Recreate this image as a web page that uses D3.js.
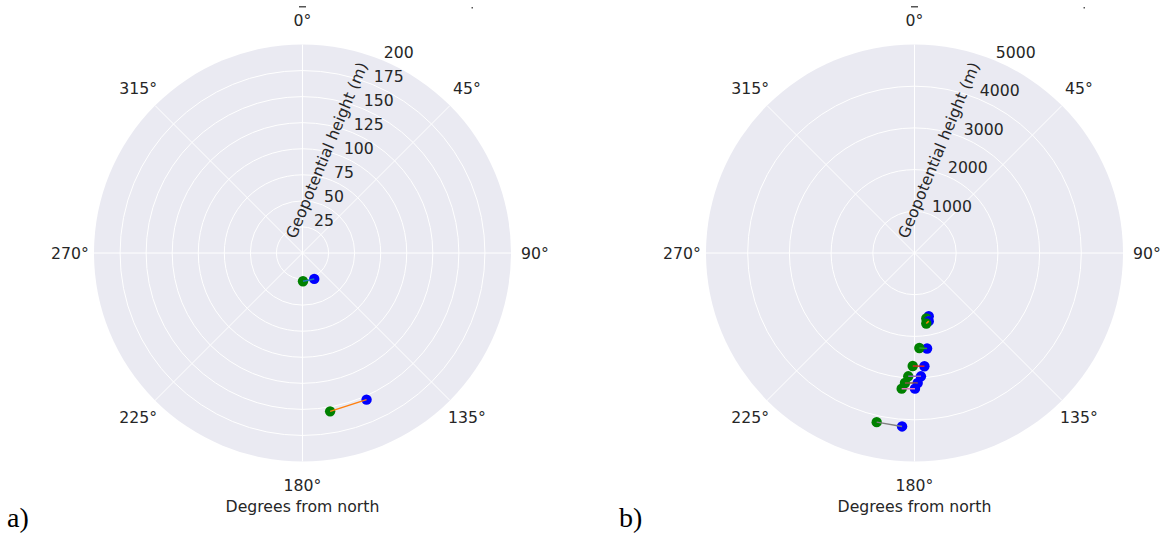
<!DOCTYPE html>
<html>
<head>
<meta charset="utf-8">
<script src="https://cdn.jsdelivr.net/npm/d3@7"></script>
<style>
  body { margin: 0; background: #fff; }
  text { font-family: "DejaVu Sans", sans-serif; fill: #262626; }
</style>
</head>
<body>
<script>
//// Data ////
const ANGLE_TICKS = [0, 45, 90, 135, 180, 225, 270, 315]

// panel a
const A_R_TICKS = [25, 50, 75, 100, 125, 150, 175, 200]
const A_BLUE_DIR = [155.6, 156.4]
const A_BLUE_HEIGHT = [27.3, 153.5]
const A_GREEN_DIR = [179.0, 170.1]
const A_GREEN_HEIGHT = [27.1, 154.2]

// panel b
const B_R_TICKS = [1000, 2000, 3000, 4000, 5000]
const B_BLUE_DIR = [167.3, 168.2, 172.5, 175.0, 177.0, 178.6, 179.8, 184.1]
const B_BLUE_HEIGHT = [1552, 1670, 2311, 2727, 2961, 3119, 3253, 4170]
const B_GREEN_DIR = [169.8, 170.5, 177.1, 180.9, 182.9, 184.2, 185.4, 192.6]
const B_GREEN_HEIGHT = [1595, 1714, 2280, 2710, 2961, 3126, 3268, 4156]

// matplotlib colour cycle for the connecting lines
const CYCLE = ["#1f77b4", "#ff7f0e", "#2ca02c", "#d62728", "#9467bd",
  "#8c564b", "#e377c2", "#7f7f7f", "#bcbd22", "#17becf"]

//// Layout ////
const WIDTH = 1165
const HEIGHT = 535
const RADIUS = 208.5
const CY = 253
const FONT = "15.7px"

const svg = d3.select("body").append("svg")
  .attr("width", WIDTH)
  .attr("height", HEIGHT)

function drawPanel(cx, rMax, rTicks, blueDir, blueH, greenDir, greenH, letter, letterX) {
  const g = svg.append("g").attr("transform", `translate(${cx},${CY})`)
  const r = d3.scaleLinear().domain([0, rMax]).range([0, RADIUS])
  const a = d3.scaleLinear().domain([0, 360]).range([0, 2 * Math.PI])

  g.append("circle").attr("r", RADIUS).attr("fill", "#eaeaf2")

  // rings
  g.selectAll(".ring").data(rTicks.filter(t => t < rMax)).join("circle")
    .attr("r", d => r(d))
    .attr("fill", "none")
    .attr("stroke", "#fff")
    .attr("stroke-width", 1)

  // spokes
  g.selectAll(".spoke").data(ANGLE_TICKS).join("line")
    .attr("x1", 0).attr("y1", 0)
    .attr("x2", d => d3.pointRadial(a(d), RADIUS)[0])
    .attr("y2", d => d3.pointRadial(a(d), RADIUS)[1])
    .attr("stroke", "#fff")
    .attr("stroke-width", 1)

  // angle labels
  g.selectAll(".alab").data(ANGLE_TICKS).join("text")
    .attr("x", d => d3.pointRadial(a(d), RADIUS + 24)[0])
    .attr("y", d => d3.pointRadial(a(d), RADIUS + 24)[1])
    .attr("text-anchor", "middle")
    .attr("dy", "0.35em")
    .style("font-size", FONT)
    .text(d => d + "°")

  // radial labels at 22.5°
  const rlAng = a(22.5)
  g.selectAll(".rlab").data(rTicks).join("text")
    .attr("x", d => d3.pointRadial(rlAng, r(d))[0] + 1.5)
    .attr("y", d => d3.pointRadial(rlAng, r(d))[1] - 2.6)
    .style("font-size", FONT)
    .text(d => d)

  // radial axis title
  const mid = d3.pointRadial(rlAng, RADIUS / 2)
  const off = 17
  const tx = mid[0] - off * Math.cos(rlAng)
  const ty = mid[1] - off * Math.sin(rlAng)
  g.append("text")
    .attr("transform", `translate(${tx},${ty}) rotate(-67.5)`)
    .attr("text-anchor", "middle")
    .attr("dy", "0.35em")
    .style("font-size", FONT)
    .text("Geopotential height (m)")

  // points and connecting lines
  blueDir.forEach((d, i) => {
    const pb = d3.pointRadial(a(d), r(blueH[i]))
    const pg = d3.pointRadial(a(greenDir[i]), r(greenH[i]))
    g.append("circle").attr("cx", pb[0]).attr("cy", pb[1]).attr("r", 5.2).attr("fill", "#0000ff")
    g.append("circle").attr("cx", pg[0]).attr("cy", pg[1]).attr("r", 5.2).attr("fill", "#008000")
    g.append("line")
      .attr("x1", pb[0]).attr("y1", pb[1])
      .attr("x2", pg[0]).attr("y2", pg[1])
      .attr("stroke", CYCLE[i % CYCLE.length])
      .attr("stroke-width", 1.5)
  })

  // x label
  svg.append("text")
    .attr("x", cx).attr("y", 511.5)
    .attr("text-anchor", "middle")
    .style("font-size", FONT)
    .text("Degrees from north")

  // panel letter
  svg.append("text")
    .attr("x", letterX).attr("y", 527)
    .style("font-family", "'Liberation Serif', serif")
    .style("font-size", "28px")
    .style("fill", "#000")
    .text(letter)

  // clipped fragments of text above the figure
  svg.append("rect").attr("x", cx - 3.5).attr("y", 6).attr("width", 7).attr("height", 1.5).attr("fill", "#555")
  svg.append("rect").attr("x", cx + 169).attr("y", 7).attr("width", 1.5).attr("height", 1.5).attr("fill", "#555")
}

drawPanel(302.5, 200, A_R_TICKS, A_BLUE_DIR, A_BLUE_HEIGHT, A_GREEN_DIR, A_GREEN_HEIGHT, "a)", 7)
drawPanel(914.5, 5000, B_R_TICKS, B_BLUE_DIR, B_BLUE_HEIGHT, B_GREEN_DIR, B_GREEN_HEIGHT, "b)", 619)
</script>
</body>
</html>
